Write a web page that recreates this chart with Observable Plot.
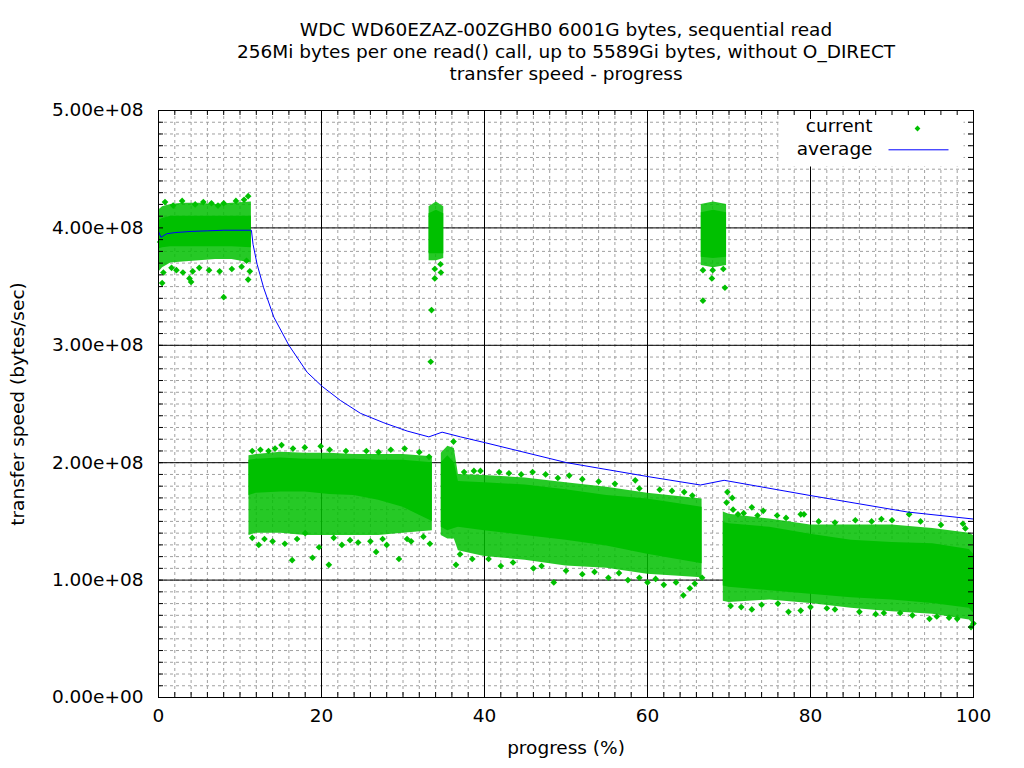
<!DOCTYPE html>
<html><head><meta charset="utf-8">
<script src="https://cdn.jsdelivr.net/npm/d3@7"></script>
<script src="https://cdn.jsdelivr.net/npm/@observablehq/plot@0.6"></script>
<style>body{margin:0;background:#fff} svg{display:block}</style>
</head><body><div id="chart"></div>
<script>
const titleLines = [
  "WDC WD60EZAZ-00ZGHB0 6001G bytes, sequential read",
  "256Mi bytes per one read() call, up to 5589Gi bytes, without O_DIRECT",
  "transfer speed - progress"
];
const xLabel = "progress (%)";
const yLabel = "transfer speed (bytes/sec)";
const seriesNames = ["current", "average"];
const xTicks = [0, 20, 40, 60, 80, 100];
const yTicks = [0, 1e8, 2e8, 3e8, 4e8, 5e8];
const UNIT = 1e8;

// "current" point cloud, read as bands per segment:
// [progress %, outer top, dense top, dense bottom, outer bottom] (x 1e8 bytes/sec)
const cloudSeg1 = [
  [0.0, 4.15, 4.06, 3.82, 3.62], [0.5, 4.18, 4.08, 3.83, 3.66], [1.5, 4.20, 4.10, 3.84, 3.70],
  [3, 4.21, 4.10, 3.84, 3.71], [5, 4.21, 4.10, 3.84, 3.72], [7, 4.20, 4.10, 3.84, 3.73],
  [9, 4.21, 4.10, 3.84, 3.73], [11.4, 4.22, 4.10, 3.83, 3.70]
];
const cloudBlip1 = [[33.2, 4.18, 4.12, 3.78, 3.72], [34.1, 4.22, 4.15, 3.78, 3.72], [35.0, 4.18, 4.12, 3.78, 3.74]];
const cloudSeg2 = [
  [11.1, 2.06, 2.02, 1.72, 1.38], [12, 2.07, 2.03, 1.74, 1.40], [15, 2.09, 2.04, 1.75, 1.40],
  [18, 2.08, 2.03, 1.75, 1.38], [21, 2.08, 2.03, 1.73, 1.38], [24, 2.07, 2.03, 1.72, 1.38],
  [27, 2.07, 2.02, 1.68, 1.38], [30, 2.07, 2.02, 1.62, 1.40], [33.6, 2.05, 2.00, 1.50, 1.42]
];
const cloudSeg3 = [
  [34.7, 2.08, 2.00, 1.45, 1.38], [35.5, 2.14, 2.06, 1.42, 1.35], [36.3, 2.12, 2.00, 1.44, 1.35],
  [36.8, 1.90, 1.84, 1.45, 1.25], [40, 1.89, 1.83, 1.42, 1.20], [45, 1.87, 1.81, 1.38, 1.17],
  [50, 1.83, 1.77, 1.34, 1.12], [55, 1.79, 1.72, 1.29, 1.10], [60, 1.74, 1.69, 1.22, 1.05],
  [66.7, 1.69, 1.62, 1.14, 1.02]
];
const cloudBlip2 = [[66.6, 4.20, 4.13, 3.75, 3.68], [68.1, 4.22, 4.15, 3.74, 3.66], [69.7, 4.20, 4.13, 3.75, 3.68]];
const cloudSeg4 = [
  [69.3, 1.58, 1.49, 0.95, 0.82], [70, 1.56, 1.48, 0.94, 0.81], [75, 1.52, 1.45, 0.91, 0.83],
  [80, 1.47, 1.39, 0.88, 0.80], [85, 1.47, 1.34, 0.85, 0.76], [90, 1.47, 1.32, 0.83, 0.73],
  [95, 1.44, 1.31, 0.80, 0.71], [99.5, 1.40, 1.26, 0.76, 0.66], [100, 1.38, 1.22, 0.72, 0.62]
];
// isolated "current" points [progress %, x 1e8 bytes/sec]
const currentOutliers = [
  [0.45,3.53],[1.6,3.66],[3.0,3.62],[3.8,3.57],[4.0,3.54],[4.2,3.63],[8.0,3.41],[11.0,3.56],[11.2,3.63],
  [10.8,3.72],[11.0,4.27],[2.9,4.23],[8.0,4.21],[5.5,4.22],[0.2,3.88],
  [33.9,3.65],[34.6,3.69],[34.65,3.62],[33.9,3.57],[33.5,3.30],[33.4,2.86],
  [66.8,3.64],[67.9,3.57],[69.5,3.49],[69.3,3.65],[68.0,3.64],[66.8,3.38],
  [16.4,1.17],[18.9,1.19],[20.9,1.13],[26.7,1.24],[29.5,1.18],[15.5,1.31],[19.7,1.28],[33.3,1.31],
  [15.1,2.15],[17.95,2.13],[19.9,2.14],[30.2,2.12],[11.5,2.10],[33.2,2.05],[16.5,2.12],
  [12.3,1.30],[14,1.33],[22.5,1.30],[24.5,1.32],[28,1.30],[31,1.33],
  [36.5,1.13],[48.5,0.98],[64.4,0.87],[65.2,0.93],[55.2,1.02],[66.7,1.02],[57.6,1.00],
  [38.7,1.93],[41.8,1.92],[45.9,1.92],[50.4,1.89],[58.5,1.85],[36.2,2.18],[61.5,1.77],[64.5,1.75],
  [42,1.12],[46,1.10],[52,1.05],[60,0.98],[62,0.96],
  [69.8,1.75],[69.7,1.66],[70.4,1.70],[71.1,1.56],[72.8,1.62],[74.2,1.59],[75.9,1.55],[78.8,1.56],
  [79.2,1.56],[88.7,1.52],[92.1,1.56],[98.7,1.48],[72.8,0.75],[77.3,0.73],[78.8,0.74],[94.6,0.67],
  [100,0.63],[83,0.75],[88,0.71],[91,0.72],[97,0.68]
];
// "current" points along the ragged edges of the clouds [progress %, x 1e8 bytes/sec]
const currentEdges = [
  [0.8,4.22],[1.8,4.19],[4.5,4.20],[6.5,4.21],[7.3,4.19],[9.5,4.23],[10.5,4.24],
  [0.6,3.62],[2.2,3.64],[5,3.66],[6.2,3.64],[7.5,3.63],[9,3.65],[10.2,3.67],
  [12.5,2.11],[13.5,2.10],[14.3,2.12],[21,2.11],[23,2.10],[25.5,2.10],[27,2.09],[28.5,2.11],[32,2.09],
  [11.5,1.36],[13,1.35],[17,1.35],[18,1.40],[21.5,1.36],[23.5,1.34],[26,1.33],[27.5,1.35],[30.5,1.35],[32.5,1.37],
  [37.5,1.92],[39.5,1.93],[43,1.91],[44.5,1.90],[47.5,1.90],[49,1.87],[52,1.86],[54,1.84],[56,1.82],[59,1.78],[63,1.76],[65.5,1.72],
  [37,1.22],[38.5,1.18],[40.5,1.18],[43.5,1.15],[47,1.12],[50,1.08],[53.5,1.07],[56.5,1.06],[59,1.02],[61,1.01],[63.5,0.98],[65.8,0.97],
  [70.5,1.60],[71.8,1.57],[73.5,1.55],[77,1.53],[81,1.50],[83,1.49],[85.5,1.51],[87.5,1.50],[90,1.51],[93.5,1.50],[96,1.47],[99,1.44],
  [70.2,0.78],[71.5,0.77],[74,0.79],[76,0.80],[80,0.77],[82,0.76],[86,0.73],[89,0.72],[92.5,0.70],[95.5,0.69],[98,0.67],[99.7,0.60]
];
// "average" line [progress %, x 1e8 bytes/sec]
const averageSeries = [
  [0,3.97],[0.3,3.92],[1,3.95],[2,3.96],[4,3.97],[6,3.975],[8,3.98],[11.4,3.98],[11.6,3.86],
  [12.1,3.69],[12.9,3.49],[14.15,3.24],[16.0,3.00],[18.24,2.77],[20.08,2.65],[22.33,2.53],
  [24.8,2.42],[27.65,2.34],[30.5,2.27],[33.17,2.22],[34.8,2.26],[37.05,2.22],[40.1,2.17],
  [50.1,2.00],[60.2,1.88],[66.5,1.81],[69.4,1.85],[80,1.72],[91.9,1.58],[100,1.52]
];

const segments = [cloudSeg1, cloudBlip1, cloudSeg2, cloudSeg3, cloudBlip2, cloudSeg4];
const bands = segments.flatMap((s, i) => s.map(([x, ot, ct, cb, ob]) => ({
  seg: i, x, ot: ot * UNIT, ct: ct * UNIT, cb: cb * UNIT, ob: ob * UNIT})));
const points = currentOutliers.concat(currentEdges).map(([x, y]) => ({x, y: y * UNIT}));
const avg = averageSeries.map(([x, y]) => ({x, y: y * UNIT}));

const xMinor = d3.range(0, 100.001, 2);
const yMinor = d3.range(0, 5e8 + 1, 1e7);
const fmt = d => { const [m, e] = d.toExponential(2).split("e"); return `${m}e${e[0]}${e.slice(1).padStart(2, "0")}`; };

const GREEN = "#00c000", BLUE = "#0000ff", FS = 18.5;
const T = {fontSize: FS, lineAnchor: "middle"};
const chart = Plot.plot({
  width: 1024, height: 768,
  marginLeft: 158, marginRight: 51, marginTop: 110, marginBottom: 71,
  x: {domain: [0, 100], label: null},
  y: {domain: [0, 5e8], label: null},
  style: {fontFamily: "DejaVu Sans", fontSize: FS + "px", background: "#fff", color: "#000"},
  marks: [
    Plot.ruleX(xMinor, {stroke: "#a0a0a0", strokeDasharray: "3,3"}),
    Plot.ruleY(yMinor, {stroke: "#a0a0a0", strokeDasharray: "3,3"}),
    Plot.ruleX(xTicks.slice(1, -1), {stroke: "#000"}),
    Plot.ruleY(yTicks.slice(1, -1), {stroke: "#000"}),
    // legend background
    Plot.frame({fill: "#fff", stroke: null, insetLeft: 620, insetRight: 10, insetTop: 0.5, insetBottom: 531}),
    Plot.areaY(bands, {x: "x", y1: "ob", y2: "ot", z: "seg", fill: GREEN, fillOpacity: 0.85}),
    Plot.areaY(bands, {x: "x", y1: "cb", y2: "ct", z: "seg", fill: GREEN}),
    Plot.dot(points, {x: "x", y: "y", symbol: "diamond2", r: 3, fill: GREEN}),
    Plot.line(avg, {x: "x", y: "y", stroke: BLUE, strokeWidth: 1}),
    Plot.frame({stroke: "#000"}),
    Plot.tickX(xMinor, {x: d => d, insetTop: 582, stroke: "#000"}),
    Plot.tickX(xMinor, {x: d => d, insetBottom: 582, stroke: "#000"}),
    Plot.tickX(xTicks, {x: d => d, insetBottom: 578, stroke: "#000"}),
    Plot.tickY(yMinor, {y: d => d, insetRight: 810, stroke: "#000"}),
    Plot.tickY(yMinor, {y: d => d, insetLeft: 810, stroke: "#000"}),
    Plot.axisX(xTicks, {tickSize: 0, tickPadding: 11, fontSize: FS, label: null}),
    Plot.axisY(yTicks, {tickSize: 0, tickPadding: 15, tickFormat: fmt, fontSize: FS, label: null}),
    // legend
    Plot.text([seriesNames[0]], {...T, frameAnchor: "top-right", dx: -101, dy: 16, textAnchor: "end"}),
    Plot.text([seriesNames[1]], {...T, frameAnchor: "top-right", dx: -101, dy: 39, textAnchor: "end"}),
    Plot.dot([0], {frameAnchor: "top-right", dx: -56, dy: 18, symbol: "diamond2", r: 2.6, fill: GREEN}),
    Plot.frame({fill: BLUE, stroke: null, insetLeft: 730, insetRight: 25, insetTop: 38.8, insetBottom: 547.2}),
    // labels
    Plot.text([xLabel], {...T, frameAnchor: "bottom", dy: 51}),
    Plot.text([yLabel], {...T, frameAnchor: "left", dx: -140, rotate: -90, textAnchor: "middle"}),
    Plot.text([titleLines[0]], {...T, frameAnchor: "top", dy: -80}),
    Plot.text([titleLines[1]], {...T, frameAnchor: "top", dy: -58}),
    Plot.text([titleLines[2]], {...T, frameAnchor: "top", dy: -36})
  ]
});
document.getElementById("chart").appendChild(chart);
</script></body></html>
